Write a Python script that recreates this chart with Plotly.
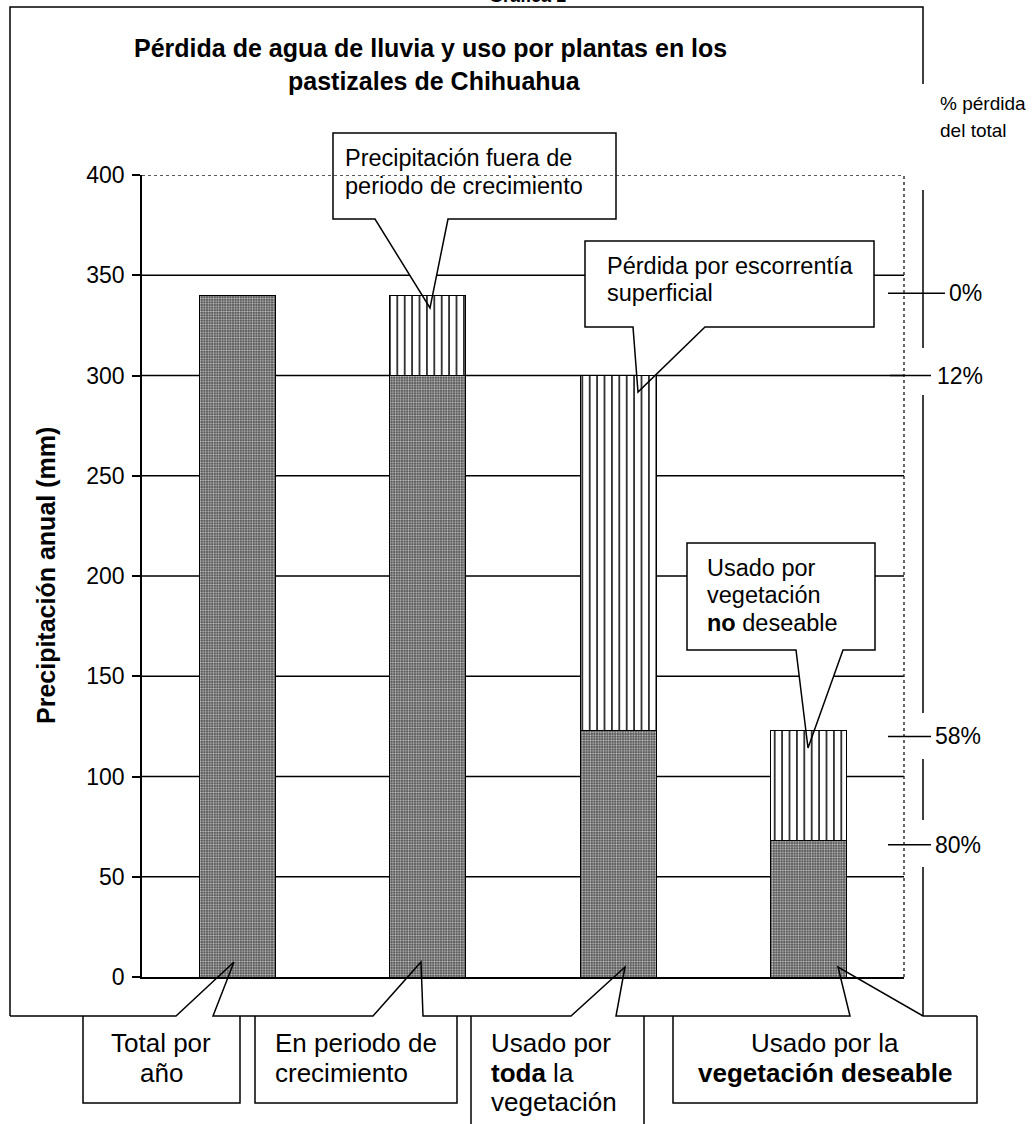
import plotly.graph_objects as go

# ---- data -------------------------------------------------------------
CATEGORIES = [
    "Total por año",
    "En periodo de crecimiento",
    "Usado por toda la vegetación",
    "Usado por la vegetación deseable",
]
RETAINED_MM = [340, 300, 123, 68]      # dark (stippled) portion of each bar
LOST_MM = [None, 40, 177, 55]          # hatched portion stacked on top
Y_TICKS = [0, 50, 100, 150, 200, 250, 300, 350, 400]
GRID_LEVELS = [50, 100, 150, 200, 250, 300, 350]
LOSS_PCT_LABELS = ["0%", "12%", "58%", "80%"]
LOSS_PCT_LEVELS = [341, 300, 120, 66]

FONT = "Liberation Sans, Arial, sans-serif"
W, H = 1032, 1124
PL, PR, PT, PB = 142, 904, 175, 977   # plot area in pixels


def px(x):
    return (x - PL) / (PR - PL)


def py(y):
    return (PB - y) / (PB - PT)


def path(points, close=False):
    s = "M " + " L ".join(f"{px(x):.5f},{py(y):.5f}" for x, y in points)
    return s + (" Z" if close else "")


BLACK = "#000000"
LW = 1.5

fig = go.Figure()
x_idx = list(range(len(CATEGORIES)))

fig.add_trace(go.Bar(
    x=x_idx, y=RETAINED_MM, width=0.4, name="retenido",
    hovertext=CATEGORIES,
    marker=dict(
        color="#6b6b6b",
        line=dict(color=BLACK, width=1),
        pattern=dict(shape=".", fgcolor="#cfcfcf", bgcolor="#565656",
                     size=2.6, solidity=0.35, fillmode="replace"),
    ),
))
fig.add_trace(go.Bar(
    x=x_idx, y=LOST_MM, width=0.4, name="perdido",
    hovertext=CATEGORIES,
    marker=dict(
        color="white",
        line=dict(color=BLACK, width=1),
        pattern=dict(shape="|", fgcolor=BLACK, bgcolor="white",
                     size=7.4, solidity=0.2, fillmode="replace"),
    ),
))

shapes = []
# horizontal gridlines (under everything)
for v in GRID_LEVELS:
    shapes.append(dict(type="line", xref="paper", yref="y", x0=0, x1=1, y0=v, y1=v,
                       line=dict(color=BLACK, width=LW), layer="below"))

# callout boxes inside the plot: polygon = box + wedge
callouts_in = [
    [(333, 219), (333, 133), (616, 133), (616, 219), (448, 219), (430, 308), (375, 219)],
    [(585, 327), (585, 241), (874, 241), (874, 327), (705, 327), (638, 392), (633, 327)],
    [(687, 650), (687, 543), (875, 543), (875, 650), (843, 650), (808, 748), (796, 650)],
]
for poly in callouts_in:
    shapes.append(dict(type="path", xref="paper", yref="paper", path=path(poly, True),
                       fillcolor="white", line=dict(width=0), layer="below"))
    shapes.append(dict(type="path", xref="paper", yref="paper", path=path(poly, True),
                       line=dict(color=BLACK, width=LW), layer="above"))

# dotted top and right border of the plot area
shapes.append(dict(type="line", xref="paper", yref="y", x0=0, x1=1, y0=400, y1=400,
                   line=dict(color="#222222", width=1.4, dash="dot"), layer="above"))
shapes.append(dict(type="line", xref="paper", yref="y", x0=1, x1=1, y0=0, y1=400,
                   line=dict(color="#222222", width=1.4, dash="dot"), layer="above"))

# outer frame: top and left edges
shapes.append(dict(type="path", xref="paper", yref="paper",
                   path=path([(10, 1016), (10, 7), (923, 7), (923, 84)]),
                   line=dict(color=BLACK, width=LW), layer="above"))
# right edge, broken around the percentage labels
for y0, y1 in [(190, 348), (395, 713), (759, 820), (867, 1016)]:
    shapes.append(dict(type="path", xref="paper", yref="paper",
                       path=path([(923, y0), (923, y1)]),
                       line=dict(color=BLACK, width=LW), layer="above"))

# bottom edge with the wedges of the category callouts
bottom = [(10, 1016), (176, 1016), (234, 962), (213, 1016),
          (373, 1016), (421, 962), (423, 1016),
          (571, 1016), (625, 967), (616, 1016),
          (850, 1016), (838, 967), (923, 1016), (977, 1016)]
shapes.append(dict(type="path", xref="paper", yref="paper", path=path(bottom),
                   line=dict(color=BLACK, width=LW), layer="above"))

# category boxes below the frame
for pts in [
    [(83, 1016), (83, 1103), (240, 1103), (240, 1016)],
    [(255, 1016), (255, 1103), (457, 1103), (457, 1016)],
    [(471, 1130), (471, 1016)],
    [(644, 1130), (644, 1016)],
    [(673, 1016), (673, 1103), (977, 1103), (977, 1016)],
]:
    shapes.append(dict(type="path", xref="paper", yref="paper", path=path(pts),
                       line=dict(color=BLACK, width=LW), layer="above"))

# loss-percentage ticks on the right
pct_x = [(888, 945), (890, 931), (888, 931), (888, 931)]
for (x0, x1), lvl in zip(pct_x, LOSS_PCT_LEVELS):
    shapes.append(dict(type="line", xref="paper", yref="y", x0=px(x0), x1=px(x1),
                       y0=lvl, y1=lvl, line=dict(color=BLACK, width=LW), layer="above"))

annotations = []


def text(x, y, s, size=23.5, anchor="left", bold=False, angle=0):
    annotations.append(dict(
        xref="paper", yref="paper", x=px(x), y=py(y),
        text=f"<b>{s}</b>" if bold else s, showarrow=False,
        xanchor=anchor, yanchor="middle", textangle=angle,
        font=dict(family=FONT, size=size, color=BLACK),
    ))


text(527, -4, "Gráfica 1", size=18, anchor="center", bold=True)
text(430, 48, "Pérdida de agua de lluvia y uso por plantas en los", size=25, anchor="center", bold=True)
text(434, 81, "pastizales de Chihuahua", size=25, anchor="center", bold=True)
text(46, 576, "Precipitación anual (mm)", size=25, anchor="center", bold=True, angle=-90)

text(938, 103, "% pérdida", size=19)
text(938, 130, "del total", size=19)

pct_label_x = [947, 935, 933, 933]
for lbl, lvl, lx in zip(LOSS_PCT_LABELS, LOSS_PCT_LEVELS, pct_label_x):
    annotations.append(dict(
        xref="paper", yref="y", x=px(lx), y=lvl, text=lbl, showarrow=False,
        xanchor="left", yanchor="middle",
        font=dict(family=FONT, size=23, color=BLACK),
    ))

# callout texts in the plot
text(343, 158, "Precipitación fuera de")
text(343, 186, "periodo de crecimiento")
text(605, 266, "Pérdida por escorrentía")
text(605, 293, "superficial")
text(705, 568, "Usado por")
text(705, 595, "vegetación")
text(705, 623, "<b>no</b> deseable")

# category texts below the frame
BS = 26
text(161, 1043, "Total por", size=BS, anchor="center")
text(161, 1073, "año", size=BS, anchor="center")
text(273, 1043, "En periodo de", size=BS)
text(273, 1073, "crecimiento", size=BS)
text(489, 1043, "Usado por", size=BS)
text(489, 1073, "<b>toda</b> la", size=BS)
text(489, 1102, "vegetación", size=BS)
text(825, 1043, "Usado por la", size=BS, anchor="center")
text(825, 1073, "vegetación deseable", size=BS, anchor="center", bold=True)

fig.update_layout(
    width=W, height=H,
    margin=dict(l=PL, r=W - PR, t=PT, b=H - PB, pad=0),
    paper_bgcolor="white", plot_bgcolor="white",
    barmode="stack", showlegend=False,
    font=dict(family=FONT, color=BLACK),
    xaxis=dict(range=[-0.5, 3.5], showline=True, linecolor=BLACK, linewidth=LW,
               showticklabels=False, ticks="", showgrid=False, zeroline=False),
    yaxis=dict(range=[0, 400], tickvals=Y_TICKS, ticks="outside", ticklen=8,
               tickwidth=LW, tickcolor=BLACK, showline=True, linecolor=BLACK,
               linewidth=LW, showgrid=False, zeroline=False, ticklabelstandoff=3,
               tickfont=dict(family=FONT, size=23, color=BLACK)),
    shapes=shapes, annotations=annotations,
)

fig.write_html("out.html")
